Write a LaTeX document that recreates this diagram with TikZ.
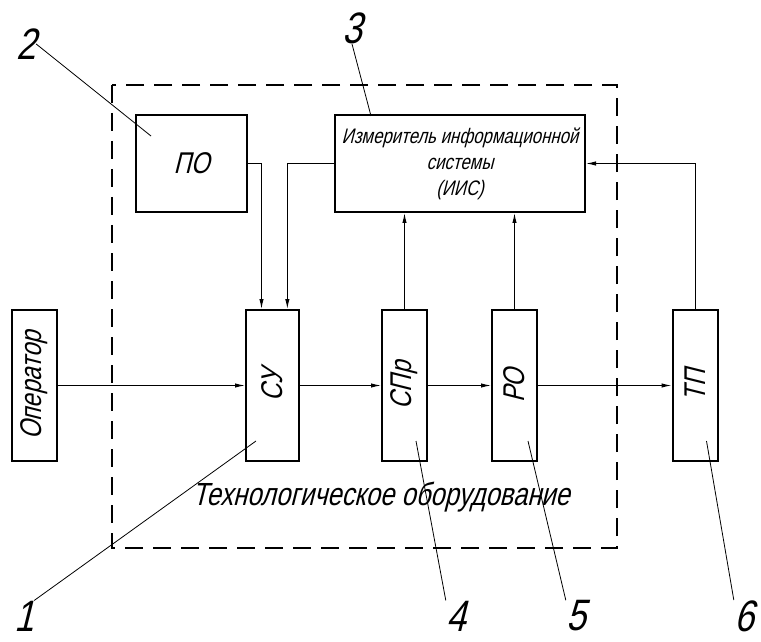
\documentclass[tikz,border=0pt]{standalone}
\usepackage{fontspec}
\setmainfont{Liberation Sans}[FakeSlant=0.25,FakeStretch=0.8]
\usetikzlibrary{arrows.meta}
\usetikzlibrary{calc}

\begin{document}
\begin{tikzpicture}[x=0.5pt, y=-0.5pt,
        box_style/.style={draw=black, line width=1pt, inner sep=0pt, font=\fontsize{15}{18}\selectfont},
        tall_style/.style={box_style, minimum width=22.5pt, minimum height=75.5pt},
        edge_style/.style={draw=black, line width=0.5pt, -{Latex[length=5pt,width=2.2pt]}},
        leader_style/.style={draw=black, line width=0.4pt},
        frame_style/.style={draw=black, line width=0.8pt, dash pattern=on 9pt off 5pt},
        num_style/.style={font=\fontsize{22}{22}\selectfont, inner sep=0pt}]

        \useasboundingbox (0,0) rectangle (761,642);

        \draw [frame_style] (112,85) rectangle (617,548);

        \node [tall_style](oper) at (34.5,385.5) {\rotatebox{90}{Оператор}};

        \node [tall_style, minimum width=26.5pt](su) at (272.5,385.5) {\rotatebox{90}{СУ}};

        \node [tall_style](spr) at (404.5,385.5) {\rotatebox{90}{СПр}};

        \node [tall_style](ro) at (514.5,385.5) {\rotatebox{90}{РО}};

        \node [tall_style](tp) at (695,385.5) {\rotatebox{90}{ТП}};

        \node [box_style, minimum width=55.5pt, minimum height=48.5pt](po) at (191.5,163.5) {ПО};

        \node [box_style, minimum width=125pt, minimum height=48.5pt, align=center, font=\fontsize{10.5}{13}\selectfont](iis) at (460,163.5) {Измеритель информационной\\системы\\(ИИС)};

        \node [font=\fontsize{16}{18}\selectfont](tech) at (381,497) {Технологическое оборудование};

        \node [num_style](n1) at (24,616) {1};

        \node [num_style](n2) at (26,44) {2};

        \node [num_style](n3) at (352,28) {3};

        \node [num_style](n4) at (456,616) {4};

        \node [num_style](n5) at (576,616) {5};

        \node [num_style](n6) at (744,616) {6};

        \draw [edge_style] (oper) -- (su);

        \draw [edge_style] (su) -- (spr);

        \draw [edge_style] (spr) -- (ro);

        \draw [edge_style] (ro) -- (tp);

        \draw [edge_style] (po.east) -| ($(su.north west)!0.3!(su.north east)$);

        \draw [edge_style] (iis.west) -| ($(su.north west)!0.77!(su.north east)$);

        \draw [edge_style] (spr.north) -- (spr.north |- iis.south);

        \draw [edge_style] (ro.north) -- (ro.north |- iis.south);

        \draw [edge_style] (tp.north) |- (iis.east);

        \draw [leader_style] ($(su.south west)+(11,-21)$) -- (n1.north east);

        \draw [leader_style] (n2.east) -- ($(po.north west)+(16,22)$);

        \draw [leader_style] (n3.south) -- ($(iis.north west)+(37,2)$);

        \draw [leader_style] ($(spr.south west)+(35,-21)$) -- (n4.north west);

        \draw [leader_style] ($(ro.south west)+(37,-21)$) -- (n5.north west);

        \draw [leader_style] ($(tp.south west)+(35,-21)$) -- (n6.north west);

\end{tikzpicture}
\end{document}
